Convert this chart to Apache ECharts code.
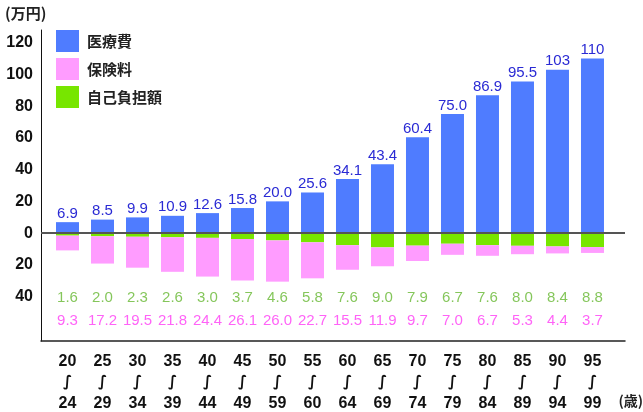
<!DOCTYPE html>
<html>
<head>
<meta charset="utf-8">
<script src="https://cdn.jsdelivr.net/npm/echarts@6/dist/echarts.min.js"></script>
<style>html,body{margin:0;padding:0;background:#fff}#c{width:643px;height:412px}</style>
</head>
<body>
<div id="c"></div>
<script>
const ageStart = ['20','25','30','35','40','45','50','55','60','65','70','75','80','85','90','95'];
const ageEnd = ['24','29','34','39','44','49','59','60','64','69','74','79','84','89','94','99'];
const medical = [6.9,8.5,9.9,10.9,12.6,15.8,20.0,25.6,34.1,43.4,60.4,75.0,86.9,95.5,103,110];
const selfPay = [1.6,2.0,2.3,2.6,3.0,3.7,4.6,5.8,7.6,9.0,7.9,6.7,7.6,8.0,8.4,8.8];
const premium = [9.3,17.2,19.5,21.8,24.4,26.1,26.0,22.7,15.5,11.9,9.7,7.0,6.7,5.3,4.4,3.7];
const yTicks = [-40,-20,0,20,40,60,80,100,120];

const valFont = "'Liberation Sans',Arial,sans-serif";
const gothic = "'Liberation Sans','Noto Sans CJK JP','DejaVu Sans',sans-serif";
const idx = ageStart.map((_, i) => i);
const fmt = v => v >= 100 ? String(v) : v.toFixed(1);

const chart = echarts.init(document.getElementById('c'), null, {renderer: 'canvas'});
chart.setOption({
  animation: false,
  backgroundColor: '#fff',
  title: [
    {text: '(万円)', left: 5, top: 6, padding: 0,
     textStyle: {fontSize: 15, fontWeight: 'bold', color: '#222', fontFamily: "'Noto Sans CJK JP',sans-serif"}},
    {text: '(歳)', right: 0, top: 394, padding: 0,
     textStyle: {fontSize: 14, fontWeight: 'bold', color: '#222', fontFamily: "'Noto Sans CJK JP',sans-serif"}}
  ],
  legend: {
    data: ['医療費', '保険料', '自己負担額'],
    orient: 'vertical', left: 56, top: 30, padding: 0,
    itemWidth: 23, itemHeight: 22, itemGap: 6, icon: 'rect',
    selectedMode: false,
    textStyle: {fontSize: 15, fontWeight: 'bold', color: '#222', padding: [0, 0, 0, 3],
                fontFamily: "'Noto Sans CJK JP',sans-serif"}
  },
  grid: {left: 41, right: 18, top: 30, bottom: 71, outerBoundsMode: 'none'},
  xAxis: {
    type: 'value', min: -0.757, max: 15.929,
    splitLine: {show: false}, axisTick: {show: false},
    axisLine: {show: true, onZero: false, lineStyle: {color: '#222', width: 1.5}},
    axisLabel: {
      customValues: idx,
      margin: 10, lineHeight: 21,
      fontSize: 16, fontWeight: 'bold', color: '#111', fontFamily: gothic,
      formatter: v => ageStart[Math.round(v)] + '\n{w|∫}\n' + ageEnd[Math.round(v)],
      rich: {w: {fontSize: 15, fontWeight: 'bold', color: '#111', lineHeight: 21, fontFamily: "'DejaVu Sans',sans-serif"}}
    }
  },
  yAxis: {
    type: 'value', min: -68, max: 128, interval: 4,
    splitLine: {show: false}, axisTick: {show: false},
    axisLine: {show: true, onZero: false, lineStyle: {color: '#111', width: 1}},
    axisLabel: {
      margin: 8, fontSize: 16, fontWeight: 'bold', color: '#111', fontFamily: gothic,
      formatter: v => yTicks.indexOf(v) >= 0 ? String(Math.abs(v)) : ''
    }
  },
  series: [
    {
      name: '医療費', type: 'bar', stack: 'total', barWidth: 23,
      encode: {x: 1, y: 0},
      itemStyle: {color: '#4f7cff'},
      data: medical.map((v, i) => [v, i]),
      label: {show: true, position: 'top', distance: 1, color: '#2a2ad4',
              fontSize: 15, fontFamily: valFont, formatter: p => fmt(medical[p.dataIndex])}
    },
    {
      name: '自己負担額', type: 'bar', stack: 'total', barWidth: 23,
      encode: {x: 1, y: 0},
      itemStyle: {color: '#77e600'},
      data: selfPay.map((v, i) => [-v, i])
    },
    {
      name: '保険料', type: 'bar', stack: 'total', barWidth: 23,
      encode: {x: 1, y: 0},
      itemStyle: {color: '#ff9cff'},
      data: premium.map((v, i) => [-v, i]),
      markLine: {
        silent: true, symbol: 'none', label: {show: false},
        lineStyle: {color: '#555', width: 2, type: 'solid'},
        data: [{yAxis: 0}]
      }
    },
    {
      name: 'selfPayLabels', type: 'scatter', symbolSize: 1, silent: true,
      itemStyle: {color: 'rgba(0,0,0,0)'},
      data: selfPay.map((v, i) => [i, -41]),
      label: {show: true, position: 'inside', color: '#66b832', fontSize: 15, fontFamily: valFont,
              formatter: p => selfPay[p.dataIndex].toFixed(1)}
    },
    {
      name: 'premiumLabels', type: 'scatter', symbolSize: 1, silent: true,
      itemStyle: {color: 'rgba(0,0,0,0)'},
      data: premium.map((v, i) => [i, -55.3]),
      label: {show: true, position: 'inside', color: '#ff3cf5', fontSize: 15, fontFamily: valFont,
              formatter: p => premium[p.dataIndex].toFixed(1)}
    }
  ]
});
</script>
</body>
</html>
